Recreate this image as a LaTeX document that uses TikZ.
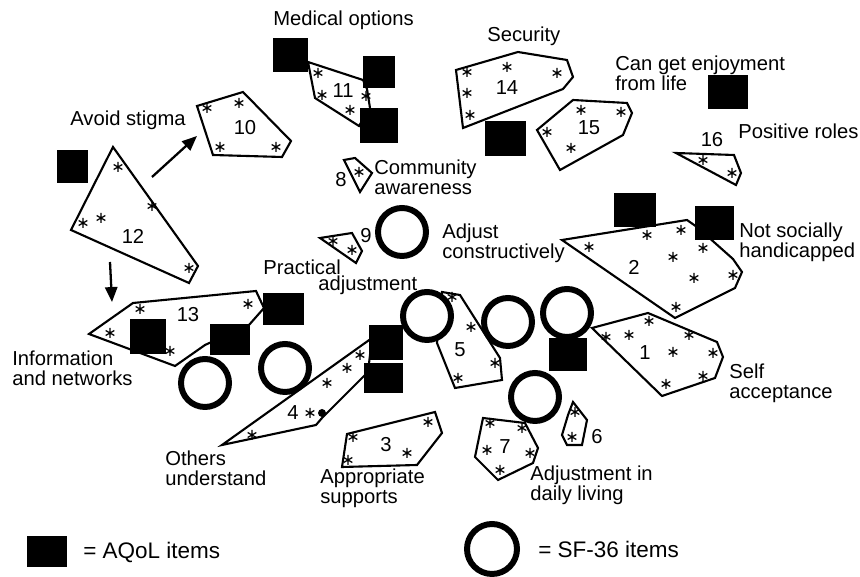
\documentclass[tikz,border=0pt]{standalone}
\usepackage{fontspec}
\setmainfont{Liberation Sans}
\usetikzlibrary{arrows.meta}
\begin{document}
\begin{tikzpicture}[x=0.02cm,y=-0.02cm,
  poly/.style={draw,line width=1.2pt,line join=miter},
  aqol/.style={fill=black},
  sf/.style={draw,line width=3.4pt,fill=white},
  lbl/.style={anchor=west,inner sep=0pt,align=left,font=\fontsize{11.5}{11.4}\selectfont},
  leg/.style={anchor=west,inner sep=0pt,font=\fontsize{12.8}{13}\selectfont},
  num/.style={inner sep=0pt,font=\fontsize{11.5}{12}\selectfont},
  ast/.pic={\draw[line width=0.7pt] (0,-5)--(0,5) (-4.33,-2.5)--(4.33,2.5) (-4.33,2.5)--(4.33,-2.5);},
  arr/.style={-{Triangle[length=8.5pt,width=7pt]},line width=1.3pt}
]
\useasboundingbox (0,0) rectangle (860,577);

% ---------- clusters (polygons) ----------
\draw[poly] (197,106)--(243,92)--(291,141)--(282,157)--(213,155)--cycle; % 10
\draw[poly] (308,62)--(363,80)--(367,89)--(370,108)--(359,126)--(315,98)--cycle; % 11
\draw[poly] (456,70)--(518,52)--(567,60)--(573,77)--(563,89)--(463,128)--cycle; % 14
\draw[poly] (537,130)--(573,100)--(627,103)--(632,113)--(623,135)--(560,170)--cycle; % 15
\draw[poly] (676,153)--(734,155)--(741,173)--(736,185)--cycle; % 16
\draw[poly] (344,160)--(355,158)--(372,173)--(360,192)--cycle; % 8
\draw[poly] (113,147)--(198,266)--(189,283)--(71,230)--cycle; % 12
\draw[poly] (320,238)--(352,233)--(362,251)--(356,263)--cycle; % 9
\draw[poly] (89,334)--(133,303)--(256,291)--(264,308)--(249,325)--(205,345)--(175,366)--cycle; % 13
\draw[poly] (562,240)--(687,220)--(697,227)--(733,259)--(742,272)--(735,288)--(675,318)--cycle; % 2
\draw[poly] (592,328)--(648,313)--(717,342)--(723,357)--(715,378)--(662,396)--cycle; % 1
\draw[poly] (442,292)--(460,295)--(500,358)--(502,380)--(455,388)--(437,343)--cycle; % 5
\draw[poly] (222,445)--(372,338)--(368,372)--(322,418)--(316,425)--cycle; % 4
\fill (322,413) circle[radius=4];
\draw[poly] (347,434)--(435,412)--(442,433)--(417,465)--(342,467)--cycle; % 3
\draw[poly] (483,418)--(525,423)--(538,448)--(533,463)--(498,480)--(475,457)--cycle; % 7
\draw[poly] (573,402)--(587,420)--(582,445)--(567,445)--(562,435)--(568,415)--cycle; % 6

% ---------- asterisks ----------
\foreach \p in {(207,108),(239,103),(220,147),(276,147),
  (318,73),(322,95),(350,110),(366,96),
  (467,72),(507,67),(557,73),(467,93),(470,115),
  (547,132),(581,110),(621,112),(571,148),
  (703,160),(732,173),
  (359,172),
  (118,167),(152,206),(83,223),(101,218),(189,268),
  (333,241),(352,250),
  (140,309),(110,333),(170,351),(248,304),
  (589,247),(647,235),(681,230),(703,248),(673,257),(694,278),(733,275),(676,307),
  (606,337),(629,335),(649,321),(689,335),(673,352),(713,353),(703,376),(666,384),
  (452,297),(471,327),(495,363),(458,378),
  (360,355),(347,368),(327,383),(310,413),(252,435),
  (353,437),(428,422),(407,453),(348,460),
  (490,423),(522,428),(487,450),(530,453),(500,470),
  (575,412),(572,437)}
  \pic at \p {ast};

% ---------- cluster numbers ----------
\node[num] (n10) at (245,128) {10};
\node[num] (n11) at (343,91) {11};
\node[num] (n14) at (507,88) {14};
\node[num] (n15) at (589,128) {15};
\node[num] (n16) at (712,140) {16};
\node[num] (n8) at (341,180) {8};
\node[num] (n9) at (366,236) {9};
\node[num] (n12) at (133,236) {12};
\node[num] (n13) at (188,315) {13};
\node[num] (n2) at (634,267) {2};
\node[num] (n1) at (645,353) {1};
\node[num] (n5) at (460,350) {5};
\node[num] (n4) at (293,413) {4};
\node[num] (n3) at (386,445) {3};
\node[num] (n7) at (505,447) {7};
\node[num] (n6) at (597,437) {6};

% ---------- SF-36 items (circles) ----------
\foreach \c in {(402,232),(427,316),(508,322),(567,313),(535,397),(205,383),(285,368)}
  \draw[sf] \c circle[radius=24];

% ---------- AQoL items (squares) ----------
\path[aqol] (57,150) rectangle (88,183);
\path[aqol] (273,38) rectangle (308,72);
\path[aqol] (363,56) rectangle (395,88);
\path[aqol] (360,108) rectangle (398,143);
\path[aqol] (485,121) rectangle (526,156);
\path[aqol] (708,75) rectangle (748,109);
\path[aqol] (614,193) rectangle (656,227);
\path[aqol] (695,206) rectangle (734,240);
\path[aqol] (263,293) rectangle (304,325);
\path[aqol] (130,319) rectangle (166,354);
\path[aqol] (210,324) rectangle (250,355);
\path[aqol] (369,325) rectangle (403,360);
\path[aqol] (364,363) rectangle (403,393);
\path[aqol] (549,338) rectangle (587,371);

% ---------- arrows ----------
\coordinate (a1s) at (152,177);
\coordinate (a1e) at (197,136);
\coordinate (a2s) at (110,262);
\coordinate (a2e) at (112,302);
\draw[arr] (a1s) -- (a1e);
\draw[arr] (a2s) -- (a2e);

% ---------- labels ----------
\node[lbl] (tMed) at (273,20) {Medical options};
\node[lbl] (tSec) at (487,36) {Security};
\node[lbl] (tEnj) at (615,73) {Can get enjoyment\\from life};
\node[lbl] (tAvo) at (70,120) {Avoid stigma};
\node[lbl] (tPos) at (738,131) {Positive roles};
\node[lbl] (tCom) at (374,177) {Community\\awareness};
\node[lbl] (tAdj) at (442,243) {Adjust\\constructively};
\node[lbl] (tNot) at (739,242) {Not socially\\handicapped};
\node[lbl] (tPra) at (263,267) {Practical};
\node[lbl] (tPra2) at (318,285) {adjustment};
\node[lbl] (tInf) at (12,368) {Information\\and networks};
\node[lbl] (tSel) at (729,383) {Self\\acceptance};
\node[lbl] (tOth) at (165,468) {Others\\understand};
\node[lbl] (tApp) at (320,488) {Appropriate\\supports};
\node[lbl] (tDai) at (530,485) {Adjustment in\\daily living};

% ---------- legend ----------
\path[aqol] (27,536) rectangle (67,567);
\node[leg] (lA) at (83,552) {= AQoL items};
\draw[sf] (492,549) circle[radius=25];
\node[leg] (lS) at (538,549) {= SF-36 items};
\end{tikzpicture}
\end{document}
